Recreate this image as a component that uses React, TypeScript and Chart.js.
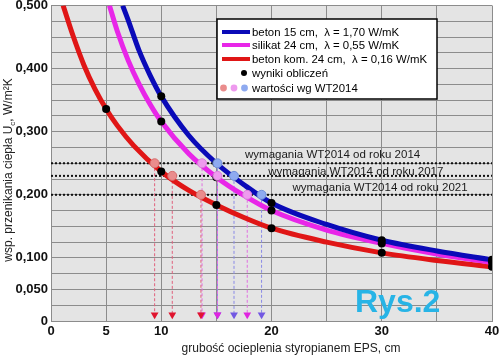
import React, { useEffect, useRef } from "react";
import { Chart, registerables } from "chart.js";

Chart.register(...registerables);

const FONT = '"Liberation Sans", Arial, sans-serif';

// Curves: insulation thickness (cm) -> U (W/m2K)
const blueX = [6.5, 7, 8, 9, 10, 12.5, 15, 17.5, 20, 25, 30, 35, 40];
const blueU = [0.5, 0.477, 0.428, 0.389, 0.356, 0.294, 0.25, 0.216, 0.187, 0.153, 0.128, 0.111, 0.097];
const magentaX = [5.3, 6, 7, 8, 9, 10, 12.5, 15, 17.5, 20, 25, 30, 35, 40];
const magentaU = [0.5, 0.46, 0.413, 0.375, 0.343, 0.316, 0.265, 0.228, 0.199, 0.175, 0.144, 0.123, 0.106, 0.093];
const redX = [1.1, 2, 3, 4, 5, 6, 7.5, 10, 12.5, 15, 17.5, 20, 25, 30, 35, 40];
const redU = [0.5, 0.452, 0.405, 0.367, 0.336, 0.31, 0.278, 0.237, 0.207, 0.184, 0.164, 0.147, 0.125, 0.108, 0.096, 0.086];

// Calculated points (black dots)
const calcX = [5, 10, 15, 20, 30, 40];
const blueCalc = [null, 0.356, 0.25, 0.187, 0.128, 0.097];
const magentaCalc = [null, 0.316, 0.228, 0.175, 0.123, 0.093];
const redCalc = [0.336, 0.237, 0.184, 0.147, 0.108, 0.086];

// WT2014 requirement levels and thickness where each curve meets them
const wtLevels = [0.25, 0.23, 0.2];
const wtLabels = [
  "wymagania WT2014 od roku 2014",
  "wymagania WT2014 od roku 2017",
  "wymagania WT2014 od roku 2021",
];
const redWtX = [9.4, 11.0, 13.6];
const magentaWtX = [13.7, 15.1, 17.8];
const blueWtX = [15.1, 16.6, 19.1];

// Axis tick labels
const xTickValues = [0, 5, 10, 15, 20, 25, 30, 35, 40];
const xLabelValues = [0, 5, 10, 20, 30, 40];
const yTickValues = Array.from({ length: 21 }, (_, i) => Math.round(i * 25) / 1000);
const yLabelValues = [0, 0.05, 0.1, 0.2, 0.3, 0.4, 0.5];

const legendLabels = [
  "beton 15 cm,  λ = 1,70 W/mK",
  "silikat 24 cm,  λ = 0,55 W/mK",
  "beton kom. 24 cm,  λ = 0,16 W/mK",
  "wyniki obliczeń",
  "wartości wg WT2014",
];

const xTitle = "grubość ocieplenia styropianem EPS, cm";
const figLabel = "Rys.2";

const BLUE = "#0a0ab8";
const MAGENTA = "#e826e8";
const RED = "#e01616";
const BLUE_PALE = "#8eaaf0";
const MAGENTA_PALE = "#ee9aee";
const RED_PALE = "#ea8c8c";

const pts = (xs: number[], ys: (number | null)[]) =>
  xs.map((x, i) => ({ x, y: ys[i] })).filter((p) => p.y !== null);

export default function App() {
  const ref = useRef<HTMLCanvasElement>(null);

  useEffect(() => {
    const canvas = ref.current!;
    const datasets: any[] = [];

    // horizontal requirement lines
    wtLevels.forEach((lvl) => {
      datasets.push({
        data: [{ x: 0, y: lvl }, { x: 40, y: lvl }],
        borderColor: "#111",
        borderWidth: 2,
        borderDash: [2, 2],
        pointRadius: 0,
        order: 6,
      });
    });

    // vertical dashed arrows
    const arrowSets = [
      { xs: redWtX, line: "#e0607c", head: "#e0142e" },
      { xs: magentaWtX, line: "#e070e0", head: "#e024e0" },
      { xs: blueWtX, line: "#8a8ae6", head: "#7258e2" },
    ];
    arrowSets.forEach((s) => {
      s.xs.forEach((x, i) => {
        datasets.push({
          data: [{ x, y: wtLevels[i] }, { x, y: 0.01 }],
          borderColor: s.line,
          borderWidth: 1,
          borderDash: [3, 2],
          pointRadius: [0, 4.5],
          pointStyle: "triangle",
          pointRotation: 180,
          pointBackgroundColor: s.head,
          pointBorderColor: s.head,
          pointBorderWidth: 0,
          order: 5,
        });
      });
    });

    // curves
    const curves = [
      { xs: redX, ys: redU, color: RED, order: 4 },
      { xs: magentaX, ys: magentaU, color: MAGENTA, order: 3 },
      { xs: blueX, ys: blueU, color: BLUE, order: 2 },
    ];
    curves.forEach((c) => {
      datasets.push({
        data: pts(c.xs, c.ys),
        borderColor: c.color,
        borderWidth: 5,
        pointRadius: 0,
        cubicInterpolationMode: "monotone",
        order: c.order,
      });
    });

    // black calculated dots
    [redCalc, magentaCalc, blueCalc].forEach((ys) => {
      datasets.push({
        data: pts(calcX, ys),
        showLine: false,
        pointRadius: 4,
        pointBackgroundColor: "#000",
        pointBorderColor: "#000",
        pointBorderWidth: 0,
        order: 1,
      });
    });

    // pale WT2014 dots
    [
      { xs: redWtX, c: RED_PALE, b: "#d87070" },
      { xs: magentaWtX, c: MAGENTA_PALE, b: "#d880d8" },
      { xs: blueWtX, c: BLUE_PALE, b: "#7090d8" },
    ].forEach((s) => {
      datasets.push({
        data: s.xs.map((x, i) => ({ x, y: wtLevels[i] })),
        showLine: false,
        pointRadius: 4.5,
        pointBackgroundColor: s.c,
        pointBorderColor: s.b,
        pointBorderWidth: 1,
        order: 0,
      });
    });

    const decor = {
      id: "decor",
      beforeDraw(chart: any) {
        const { ctx, chartArea: a } = chart;
        ctx.save();
        ctx.fillStyle = "#e4e4e4";
        ctx.fillRect(a.left, a.top, a.right - a.left, a.bottom - a.top);
        ctx.restore();
      },
      afterDraw(chart: any) {
        const { ctx } = chart;
        const xs = chart.scales.x;
        const ys = chart.scales.y;
        ctx.save();

        // requirement labels
        const labelStart = [17.6, 19.7, 21.9];
        const labelLift = [8, 4.5, 6.5];
        ctx.font = `11.5px ${FONT}`;
        ctx.fillStyle = "#1a1a1a";
        ctx.textBaseline = "middle";
        ctx.textAlign = "left";
        wtLevels.forEach((lvl, i) => {
          ctx.fillText(wtLabels[i], xs.getPixelForValue(labelStart[i]), ys.getPixelForValue(lvl) - labelLift[i]);
        });

        // legend box
        const L = 217, T = 19, R = 437, B = 99;
        ctx.fillStyle = "#fff";
        ctx.fillRect(L, T, R - L, B - T);
        ctx.strokeStyle = "#000";
        ctx.lineWidth = 1.5;
        ctx.strokeRect(L, T, R - L, B - T);
        const rows = [32, 45, 59, 73, 88];
        const sw = [BLUE, MAGENTA, RED];
        sw.forEach((c, i) => {
          ctx.strokeStyle = c;
          ctx.lineWidth = 4;
          ctx.beginPath();
          ctx.moveTo(222, rows[i]);
          ctx.lineTo(250, rows[i]);
          ctx.stroke();
        });
        ctx.fillStyle = "#000";
        ctx.beginPath();
        ctx.arc(244, rows[3], 3, 0, Math.PI * 2);
        ctx.fill();
        [RED_PALE, MAGENTA_PALE, BLUE_PALE].forEach((c, i) => {
          ctx.fillStyle = c;
          ctx.beginPath();
          ctx.arc(223.5 + i * 10.5, rows[4], 3.4, 0, Math.PI * 2);
          ctx.fill();
        });
        ctx.fillStyle = "#000";
        ctx.font = `11.4px ${FONT}`;
        ctx.textBaseline = "middle";
        legendLabels.forEach((t, i) => ctx.fillText(t, 252, rows[i] + 0.5));

        // x title
        ctx.font = `12px ${FONT}`;
        ctx.fillStyle = "#222";
        ctx.textAlign = "center";
        ctx.fillText(xTitle, 291, 349);

        // y title with subscript
        ctx.save();
        ctx.translate(8, 170);
        ctx.rotate(-Math.PI / 2);
        const p1 = "wsp. przenikania ciepła U";
        const p2 = "c";
        const p3 = ", W/m²K";
        ctx.font = `12px ${FONT}`;
        const w1 = ctx.measureText(p1).width;
        const w3 = ctx.measureText(p3).width;
        ctx.font = `8px ${FONT}`;
        const w2 = ctx.measureText(p2).width;
        const x0 = -(w1 + w2 + w3) / 2;
        ctx.textAlign = "left";
        ctx.textBaseline = "alphabetic";
        ctx.font = `12px ${FONT}`;
        ctx.fillText(p1, x0, 4);
        ctx.font = `8px ${FONT}`;
        ctx.fillText(p2, x0 + w1, 7);
        ctx.font = `12px ${FONT}`;
        ctx.fillText(p3, x0 + w1 + w2, 4);
        ctx.restore();

        // figure label
        ctx.font = `bold 32px ${FONT}`;
        ctx.fillStyle = "#27b4e6";
        ctx.textAlign = "left";
        ctx.textBaseline = "alphabetic";
        ctx.fillText(figLabel, 355, 312);

        ctx.restore();
      },
    };

    const chart = new Chart(canvas, {
      type: "line",
      data: { datasets },
      options: {
        animation: false,
        responsive: false,
        devicePixelRatio: 1,
        events: [],
        layout: { padding: { top: 5, right: 8, left: 0, bottom: 0 } },
        plugins: { legend: { display: false }, tooltip: { enabled: false } },
        scales: {
          x: {
            type: "linear",
            min: 0,
            max: 40,
            afterBuildTicks: (s: any) => {
              s.ticks = xTickValues.map((v) => ({ value: v }));
            },
            afterFit: (s: any) => {
              s.height = 35;
              s.paddingLeft = 0;
              s.paddingRight = 0;
            },
            grid: { color: "#8c8c8c", lineWidth: 1, tickLength: 0 },
            border: { display: true, color: "#8c8c8c" },
            ticks: {
              autoSkip: false,
              maxRotation: 0,
              padding: 3,
              color: "#111",
              font: { family: FONT, size: 13, weight: "bold" },
              callback: (v: any) => (xLabelValues.includes(Number(v)) ? String(v) : ""),
            },
          },
          y: {
            type: "linear",
            min: 0,
            max: 0.5,
            afterBuildTicks: (s: any) => {
              s.ticks = yTickValues.map((v) => ({ value: v }));
            },
            afterFit: (s: any) => {
              s.width = 51;
              s.paddingTop = 0;
              s.paddingBottom = 0;
            },
            grid: { color: "#8c8c8c", lineWidth: 1, tickLength: 0 },
            border: { display: true, color: "#8c8c8c" },
            ticks: {
              autoSkip: false,
              padding: 3,
              color: "#111",
              font: { family: FONT, size: 13, weight: "bold" },
              callback: (v: any) => {
                const n = Math.round(Number(v) * 1000) / 1000;
                if (!yLabelValues.some((l) => Math.abs(l - n) < 1e-6)) return "";
                return n === 0 ? "0" : n.toFixed(3).replace(".", ",");
              },
            },
          },
        },
      } as any,
      plugins: [decor],
    });

    return () => chart.destroy();
  }, []);

  return (
    <div style={{ position: "fixed", left: 0, top: 0, width: 500, height: 356, background: "#fff" }}>
      <canvas ref={ref} width={500} height={356} />
    </div>
  );
}
